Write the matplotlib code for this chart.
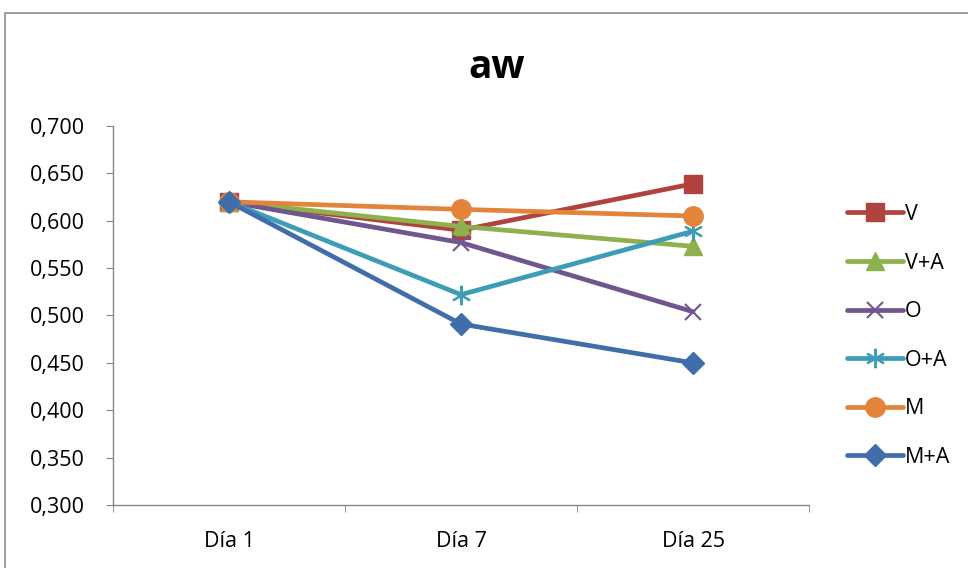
import matplotlib
matplotlib.use("Agg")
import matplotlib.pyplot as plt
from matplotlib.patches import Rectangle
from matplotlib.ticker import FixedLocator, NullFormatter

categories = ["Día 1", "Día 7", "Día 25"]
series_names = ["V", "V+A", "O", "O+A", "M", "M+A"]
V = [0.620, 0.590, 0.639]
VA = [0.620, 0.594, 0.573]
O = [0.620, 0.577, 0.504]
OA = [0.620, 0.522, 0.589]
M = [0.620, 0.612, 0.605]
MA = [0.620, 0.491, 0.450]
values = [V, VA, O, OA, M, MA]
colors = ["#B0433F", "#8DB14C", "#71558F", "#3E9DB6", "#E3843A", "#3F6EAA"]
markers = ["s", "^", "x", (6, 2, 0), "o", "D"]
msizes = [13, 13, 12, 14, 14, 11]
yticks = [0.300, 0.350, 0.400, 0.450, 0.500, 0.550, 0.600, 0.650, 0.700]

plt.rcParams['font.family'] = ['Open Sans', 'DejaVu Sans']
fig = plt.figure(figsize=(9.68, 5.68), dpi=100)
fig.patches.append(Rectangle((5/968, -0.1), 1.2, (568-13)/568 + 0.1, transform=fig.transFigure,
                             fill=False, edgecolor="#8c8c8c", linewidth=1.2))
ax = fig.add_axes([113/968, 63/568, 696/968, 379/568])
x = list(range(len(categories)))
for name, vals, c, m, ms in zip(series_names, values, colors, markers, msizes):
    ax.plot(x, vals, color=c, linewidth=3.4, marker=m, markersize=ms,
            markeredgewidth=1.5 if m in ("x", (6, 2, 0)) else 1, markeredgecolor=c,
            label=name, solid_capstyle='round')

ax.set_xlim(-0.5, 2.5)
ax.set_ylim(0.300, 0.700)
ax.set_yticks(yticks)
ax.set_yticklabels([f"{v:.3f}".replace(".", ",") for v in yticks], fontsize=15.5)
ax.set_xticks(x)
ax.set_xticklabels(categories, fontsize=15.5)
ax.tick_params(axis='x', which='major', length=0, pad=19)
ax.xaxis.set_minor_locator(FixedLocator([-0.5, 0.5, 1.5, 2.5]))
ax.xaxis.set_minor_formatter(NullFormatter())
ax.tick_params(axis='x', which='minor', length=5, color="#868686")
ax.tick_params(axis='y', length=5, color="#868686", pad=15)
for s in ["top", "right"]:
    ax.spines[s].set_visible(False)
for s in ["left", "bottom"]:
    ax.spines[s].set_color("#868686")
    ax.spines[s].set_linewidth(1.0)

fig.text(497/968, 1 - 67/568, "aw", ha="center", va="center", fontsize=28, fontweight="bold")

leg = ax.legend(loc="upper left", bbox_to_anchor=(847/968, 1 - 204/568), bbox_transform=fig.transFigure,
                frameon=False, fontsize=15.5, handlelength=2.6, labelspacing=1.28, handletextpad=0.1,
                borderaxespad=0, borderpad=0)
plt.savefig("out.png", dpi=100)
